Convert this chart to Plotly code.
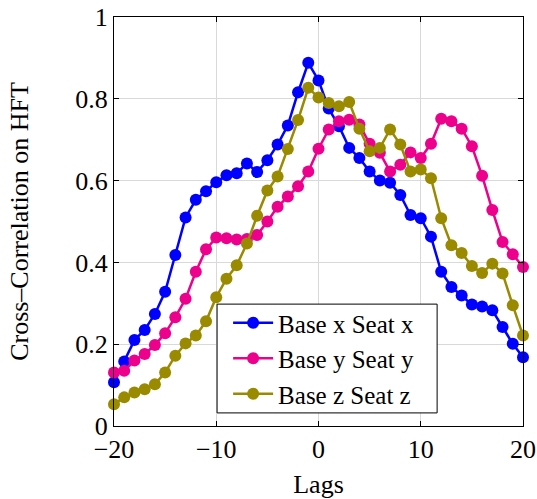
import plotly.graph_objects as go

lags = list(range(-20, 21))

base_x_seat_x = [0.107, 0.158, 0.210, 0.235, 0.274, 0.328, 0.418, 0.510, 0.553, 0.574,
                 0.596, 0.613, 0.618, 0.642, 0.621, 0.650, 0.688, 0.735, 0.816, 0.888,
                 0.845, 0.776, 0.733, 0.680, 0.655, 0.622, 0.600, 0.595, 0.565, 0.516,
                 0.508, 0.463, 0.377, 0.340, 0.319, 0.297, 0.292, 0.283, 0.242, 0.201,
                 0.168]
base_y_seat_y = [0.131, 0.135, 0.160, 0.176, 0.198, 0.227, 0.266, 0.311, 0.377, 0.432,
                 0.461, 0.459, 0.456, 0.457, 0.467, 0.500, 0.536, 0.561, 0.586, 0.622,
                 0.678, 0.725, 0.745, 0.749, 0.737, 0.690, 0.668, 0.622, 0.639, 0.669,
                 0.655, 0.690, 0.751, 0.745, 0.727, 0.684, 0.612, 0.528, 0.450, 0.420,
                 0.389]
base_z_seat_z = [0.053, 0.070, 0.082, 0.090, 0.102, 0.131, 0.172, 0.202, 0.221, 0.256,
                 0.315, 0.360, 0.393, 0.446, 0.514, 0.576, 0.610, 0.677, 0.748, 0.827,
                 0.803, 0.790, 0.782, 0.792, 0.727, 0.672, 0.680, 0.725, 0.688, 0.622,
                 0.627, 0.606, 0.508, 0.442, 0.423, 0.391, 0.374, 0.397, 0.373, 0.295,
                 0.221]

series_names = ["Base x Seat x", "Base y Seat y", "Base z Seat z"]
series_colors = ["#0000FF", "#EC008C", "#998A00"]

x_tick_vals = [-20, -10, 0, 10, 20]
x_tick_text = ["\u221220", "\u221210", "0", "10", "20"]
y_tick_vals = [0, 0.2, 0.4, 0.6, 0.8, 1]
y_tick_text = ["0", "0.2", "0.4", "0.6", "0.8", "1"]

FONT = "Liberation Serif"
FS = 26

fig = go.Figure()
for name, vals, col in zip(series_names, [base_x_seat_x, base_y_seat_y, base_z_seat_z], series_colors):
    fig.add_trace(go.Scatter(
        x=lags, y=vals, name=name, mode="lines+markers",
        line=dict(color=col, width=2.5),
        marker=dict(color=col, size=12),
        cliponaxis=False,
    ))

axis_common = dict(
    showline=True, linecolor="black", linewidth=1, mirror="ticks",
    ticks="inside", ticklen=5, tickcolor="black",
    showgrid=True, gridcolor="#d9d9d9", gridwidth=1,
    zeroline=False, automargin=False,
    tickfont=dict(family=FONT, size=FS, color="black"),
)

# legend frame (white box with black border) drawn as a shape
fig.add_shape(
    type="rect", xref="paper", yref="paper",
    x0=0.252, x1=0.790, y0=0.032, y1=0.298,
    line=dict(color="black", width=1), fillcolor="white", layer="above",
)

fig.update_layout(
    width=537, height=499,
    margin=dict(l=114, r=14, t=17, b=73),
    paper_bgcolor="white", plot_bgcolor="white",
    font=dict(family=FONT, size=FS, color="black"),
    showlegend=True,
    legend=dict(
        x=0.279, y=0.308, xanchor="left", yanchor="top",
        bgcolor="rgba(0,0,0,0)", borderwidth=0,
        font=dict(family=FONT, size=25, color="black"),
        tracegroupgap=0, itemwidth=40,
    ),
    xaxis=dict(
        range=[-20, 20], tickvals=x_tick_vals, ticktext=x_tick_text,
        title=dict(text="Lags", font=dict(family=FONT, size=FS), standoff=12),
        **axis_common,
    ),
    yaxis=dict(
        range=[0, 1], tickvals=y_tick_vals, ticktext=y_tick_text,
        title=dict(text="Cross\u2013Correlation on HFT", font=dict(family=FONT, size=FS), standoff=39),
        **axis_common,
    ),
)

fig.write_html(
    "out.html",
    config={"displayModeBar": False},
    post_script="document.body.style.margin='0';document.body.style.overflow='hidden';",
)
